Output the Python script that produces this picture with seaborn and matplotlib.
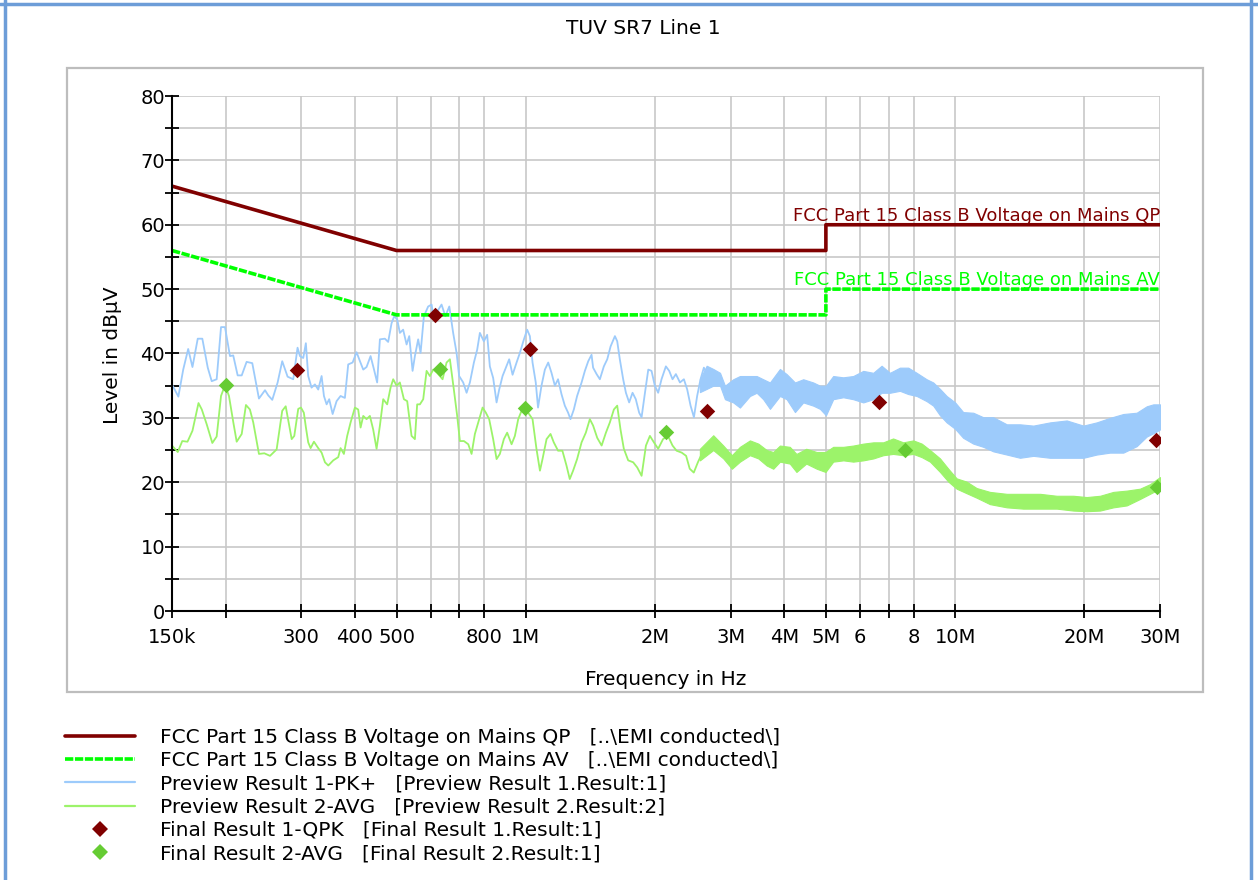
import numpy as np
import matplotlib
matplotlib.use('Agg')
import matplotlib.pyplot as plt
import seaborn as sns
from matplotlib.lines import Line2D
from matplotlib.patches import Rectangle
from matplotlib.ticker import FixedLocator, FixedFormatter, MultipleLocator, NullLocator

# --- limit lines (FCC Part 15 Class B, conducted) ---
limit_freq_hz = [150e3, 500e3, 5e6, 5e6, 30e6]
qp_limit_db = [66, 56, 56, 60, 60]
av_limit_db = [56, 46, 46, 50, 50]

# --- Preview Result 1-PK+ , resolved part (kHz) ---
pk_freq_khz = [150.0, 155.2, 159.3, 163.6, 167.4, 172.2, 176.5, 181.7, 185.6, 190.6,
               195.1, 199.3, 204.7, 208.3, 213.3, 218.0, 223.8, 230.7, 239.1, 247.0,
               251.3, 256.8, 264.3, 270.9, 278.8, 287.4, 294.1, 297.9, 303.2, 307.5,
               311.4, 317.0, 322.8, 328.6, 334.6, 338.8, 343.7, 348.5, 355.0, 362.6,
               370.4, 379.1, 385.9, 395.1, 403.6, 411.0, 418.3, 425.8, 435.1, 442.8,
               450.7, 457.4, 469.8, 478.1, 486.9, 493.9, 501.8, 509.1, 518.1, 527.8,
               535.3, 545.0, 551.8, 561.6, 568.9, 579.1, 592.5, 603.6, 608.6, 621.8,
               636.6, 649.7, 663.6, 677.5, 690.0, 699.6, 714.9, 728.1, 741.1, 757.2,
               770.7, 781.9, 798.7, 813.0, 824.8, 839.6, 855.1, 867.2, 883.0, 898.8,
               914.9, 931.7, 951.9, 969.0, 990.2, 1007.5, 1022.3, 1037, 1055, 1068,
               1088, 1108, 1128, 1148, 1169, 1189, 1211, 1233, 1255, 1271,
               1294, 1317, 1349, 1373, 1398, 1423, 1435, 1462, 1488, 1520,
               1548, 1576, 1613, 1633, 1656, 1686, 1711, 1741, 1773, 1804,
               1837, 1861, 1895, 1929, 1963, 1998, 2034, 2071, 2120, 2158,
               2197, 2237, 2286, 2335, 2377, 2420, 2464, 2507, 2553, 2599,
               2660]
pk_level = [35.2, 33.3, 37.5, 40.7, 37.9, 42.3, 42.3, 37.8, 35.7, 36.0,
            44.1, 44.1, 39.6, 39.7, 36.6, 36.6, 38.7, 38.5, 33.0, 34.3,
            33.5, 32.8, 35.5, 38.8, 36.4, 36.0, 40.9, 39.6, 39.3, 41.6,
            36.5, 34.7, 35.2, 34.4, 36.5, 33.4, 32.1, 32.9, 30.6, 32.6,
            33.4, 33.1, 38.3, 38.6, 40.2, 38.8, 37.5, 37.9, 39.6, 37.6,
            35.5, 42.2, 42.3, 41.8, 44.7, 45.8, 45.3, 43.2, 43.7, 41.4,
            42.7, 37.3, 39.6, 42.2, 40.1, 45.8, 47.3, 47.6, 45.8, 46.5,
            47.6, 45.8, 47.3, 43.2, 40.1, 36.5, 35.5, 33.9, 35.5, 38.6,
            40.6, 43.2, 41.9, 42.9, 38.0, 36.2, 32.4, 34.4, 36.5, 37.8,
            39.1, 36.7, 38.6, 40.1, 42.2, 43.7, 42.7, 38.6, 35.5, 31.6,
            35.0, 37.5, 38.6, 37.0, 35.0, 36.0, 33.7, 31.9, 30.8, 29.8,
            31.3, 33.4, 35.5, 37.3, 38.8, 39.8, 37.8, 36.8, 36.0, 38.0,
            39.1, 41.1, 42.7, 41.9, 39.1, 36.0, 33.9, 32.4, 33.9, 32.9,
            30.8, 30.1, 33.9, 37.5, 37.3, 35.0, 33.9, 36.0, 38.0, 37.3,
            36.0, 36.8, 35.5, 36.0, 34.4, 31.9, 30.1, 33.4, 36.0, 37.8,
            36.5]

# PK+ dense part above ~2.5 MHz: band edges (MHz)
pk_band_freq_mhz = [2.544, 2.638, 2.733, 2.834, 2.910, 3.042, 3.153, 3.327, 3.449, 3.573,
                    3.704, 3.908, 4.051, 4.236, 4.428, 4.672, 4.844, 5.002, 5.200, 5.487,
                    5.789, 6.109, 6.446, 6.741, 7.049, 7.436, 7.776, 8.136, 8.582, 8.892,
                    9.218, 9.554, 10.0, 10.44, 11.02, 11.63, 12.27, 13.19, 14.16, 15.21,
                    16.63, 18.19, 19.89, 21.36, 22.94, 24.64, 26.47, 27.94, 28.94, 30.0]
pk_band_high = [36.0, 38.1, 37.6, 37.0, 35.0, 36.0, 36.5, 36.5, 36.5, 36.0,
                35.5, 37.6, 36.8, 35.5, 36.0, 35.5, 35.0, 35.0, 36.5, 36.3,
                36.5, 37.3, 37.0, 38.1, 37.0, 37.8, 37.8, 37.0, 36.0, 35.5,
                34.5, 33.4, 32.4, 30.9, 30.8, 30.1, 30.1, 29.0, 29.0, 28.8,
                29.3, 29.6, 28.8, 29.3, 30.0, 30.6, 30.8, 31.8, 32.1, 32.1]
pk_band_low = [34.0, 34.5, 35.0, 35.0, 32.9, 32.4, 31.6, 33.4, 33.9, 32.9,
               31.4, 33.4, 32.9, 30.9, 32.4, 31.9, 31.4, 30.4, 32.9, 33.2,
               32.9, 32.4, 32.9, 33.9, 33.9, 34.2, 33.7, 33.4, 32.6, 31.9,
               30.4, 29.3, 28.3, 26.9, 26.0, 25.5, 24.8, 24.3, 23.8, 24.1,
               23.8, 23.8, 23.8, 24.3, 24.6, 24.6, 25.6, 27.1, 27.6, 28.2]

# --- Preview Result 2-AVG , resolved part (kHz) ---
avg_freq_khz = [150.0, 154.7, 158.5, 163.0, 167.4, 172.9, 176.0, 180.7, 186.2, 190.6,
                195.1, 199.3, 203.6, 208.4, 212.2, 218.0, 223.0, 227.8, 231.9, 239.1,
                246.1, 253.7, 262.9, 270.9, 276.0, 285.0, 289.0, 295.2, 299.5,
                304.2, 307.6, 311.4, 315.4, 321.1, 328.6, 334.6, 340.7, 346.8, 356.2,
                365.8, 370.4, 377.1, 383.8, 390.9, 400.0, 407.1, 412.4, 418.3, 425.8,
                433.5, 441.2, 449.3, 457.4, 465.6, 475.6, 484.3, 491.2, 500.2, 509.1,
                520.2, 529.5, 542.0, 551.8, 558.6, 566.8, 577.0, 587.5, 598.1, 608.6,
                621.8, 640.1, 654.0, 665.7, 680.0, 692.3, 702.4, 717.8, 734.7, 747.8,
                761.2, 779.0, 793.3, 807.4, 821.8, 839.6, 855.1, 870.3, 889.2, 905.1,
                926.7, 943.3, 960.3, 977.8, 995.4, 1013, 1037, 1059, 1079, 1094,
                1118, 1142, 1162, 1189, 1217, 1244, 1266, 1289, 1317, 1349,
                1380, 1410, 1435, 1467, 1502, 1537, 1570, 1604, 1633, 1662,
                1692, 1732, 1779, 1818, 1861, 1905, 1946, 1988, 2034, 2088,
                2144, 2197, 2245, 2308, 2363, 2409, 2462, 2517, 2578, 2633]
avg_level = [25.7, 24.7, 26.4, 26.3, 28.0, 32.3, 31.3, 29.0, 26.1, 27.1,
             33.4, 35.1, 33.4, 29.3, 26.3, 27.5, 32.0, 31.3, 29.3, 24.4,
             24.5, 24.1, 25.1, 31.1, 31.8, 26.7, 27.2, 31.4, 31.6,
             30.8, 28.5, 26.2, 25.3, 26.3, 25.3, 24.6, 23.1, 22.6, 23.4,
             23.9, 25.3, 24.4, 27.2, 29.3, 31.6, 31.3, 28.5, 30.3, 29.8,
             30.3, 28.2, 25.2, 28.8, 32.9, 32.1, 34.7, 36.0, 35.0, 35.5,
             32.9, 32.6, 27.2, 26.7, 32.1, 32.1, 32.9, 37.3, 36.5, 37.5,
             37.0, 36.0, 38.6, 39.1, 34.4, 30.3, 26.4, 26.4, 25.9, 24.4,
             27.5, 29.8, 31.6, 30.8, 29.8, 26.7, 23.6, 24.4, 26.7, 27.7,
             25.9, 27.2, 29.8, 31.1, 31.6, 30.8, 29.8, 25.2, 21.8, 23.6,
             26.7, 27.5, 26.2, 24.9, 24.9, 22.6, 20.5, 21.8, 23.6, 26.2,
             27.7, 29.8, 28.8, 26.9, 25.7, 27.7, 29.3, 31.3, 31.9, 28.2,
             25.2, 23.4, 23.1, 22.3, 21.0, 25.7, 27.2, 26.2, 25.2, 26.7,
             27.2, 25.7, 24.9, 24.6, 24.1, 22.1, 21.5, 23.1, 24.6, 25.7]

avg_band_freq_mhz = [2.544, 2.733, 2.884, 3.020, 3.153, 3.327, 3.480, 3.640, 3.770, 3.908,
                     4.120, 4.270, 4.500, 4.760, 4.990, 5.200, 5.490, 5.790, 6.110, 6.450,
                     6.800, 7.170, 7.570, 7.990, 8.360, 8.740, 9.220, 9.640, 10.08, 10.63,
                     11.22, 12.05, 13.19, 14.41, 15.77, 17.24, 18.85, 20.25, 21.75, 23.36,
                     25.10, 26.95, 28.43, 30.0]
avg_band_high = [25.2, 27.3, 25.7, 24.2, 25.5, 26.5, 26.0, 25.0, 24.7, 25.7,
                 25.5, 24.4, 25.2, 24.7, 24.7, 25.5, 25.5, 25.7, 26.0, 26.2,
                 26.2, 26.8, 26.2, 26.5, 26.0, 25.0, 23.7, 22.1, 20.6, 20.1,
                 19.1, 18.5, 18.2, 18.2, 18.2, 17.9, 17.9, 17.7, 17.9, 18.5,
                 18.7, 19.0, 19.7, 20.8]
avg_band_low = [23.4, 25.0, 23.7, 22.1, 23.2, 24.2, 23.7, 22.6, 22.1, 23.2,
                22.9, 21.6, 22.9, 22.1, 21.6, 23.2, 23.4, 23.2, 23.4, 23.7,
                24.2, 24.4, 24.2, 24.4, 23.9, 23.2, 21.6, 20.1, 19.0, 18.3,
                17.6, 16.6, 16.1, 15.9, 15.9, 15.9, 15.6, 15.5, 15.6, 16.1,
                16.4, 17.4, 18.2, 19.0]

# --- final results ---
qpk_freq_mhz = [0.2936, 0.6136, 1.022, 2.64, 6.66, 29.36]
qpk_level = [37.4, 46.0, 40.7, 31.1, 32.5, 26.6]
avg_final_freq_mhz = [0.200, 0.633, 0.995, 2.12, 7.64, 29.5]
avg_final_level = [35.1, 37.6, 31.5, 27.8, 25.0, 19.3]

# --- axis ticks ---
tick_freqs = [150e3, 200e3, 300e3, 400e3, 500e3, 600e3, 700e3, 800e3, 1e6,
              2e6, 3e6, 4e6, 5e6, 6e6, 7e6, 8e6, 10e6, 20e6, 30e6]
tick_labels = ['150k', '', '300', '400', '500', '', '', '800', '1M',
               '2M', '3M', '4M', '5M', '6', '', '8', '10M', '20M', '30M']

legend_labels = [
    'FCC Part 15 Class B Voltage on Mains QP   [..\\EMI conducted\\]',
    'FCC Part 15 Class B Voltage on Mains AV   [..\\EMI conducted\\]',
    'Preview Result 1-PK+   [Preview Result 1.Result:1]',
    'Preview Result 2-AVG   [Preview Result 2.Result:2]',
    'Final Result 1-QPK   [Final Result 1.Result:1]',
    'Final Result 2-AVG   [Final Result 2.Result:1]',
]

QP_COLOR = '#800000'
AV_COLOR = '#00ff00'
PK_COLOR = '#9dcbfb'
AVG_COLOR = '#9cf36a'
AVG_MARK = '#66cc33'
AV_DASH = (0, (2.3, 0.45))

sns.set_theme(style='white')
plt.rcParams['font.family'] = ['DejaVu Sans']
plt.rcParams.update({'text.color': 'black', 'axes.labelcolor': 'black',
                     'xtick.color': 'black', 'ytick.color': 'black'})

fig = plt.figure(figsize=(12.58, 8.8), dpi=100)
W, H = 1258, 880

# window frame + panel box
for xs, ys in [([0, 1], [1 - 4 / H] * 2), ([5 / W] * 2, [0, 1]), ([1251 / W] * 2, [0, 1])]:
    fig.add_artist(Line2D(xs, ys, transform=fig.transFigure, color='#6d9dd8', lw=2.5))
fig.add_artist(Rectangle((67 / W, 1 - 692 / H), 1136 / W, 624 / H, transform=fig.transFigure,
                         fill=False, edgecolor='#bdbdbd', lw=1.6))

ax = fig.add_axes([172 / W, 1 - 611 / H, 988 / W, 515 / H])
ax.set_xscale('log')

# preview traces
sns.lineplot(x=np.array(pk_freq_khz) * 1e3, y=pk_level, ax=ax, color=PK_COLOR, lw=1.3,
             sort=False, estimator=None, legend=False)
ax.fill_between(np.array(pk_band_freq_mhz) * 1e6, pk_band_low, pk_band_high,
                color=PK_COLOR, lw=0.8)
sns.lineplot(x=np.array(avg_freq_khz) * 1e3, y=avg_level, ax=ax, color=AVG_COLOR, lw=1.3,
             sort=False, estimator=None, legend=False)
ax.fill_between(np.array(avg_band_freq_mhz) * 1e6, avg_band_low, avg_band_high,
                color=AVG_COLOR, lw=0.8)

# limits
sns.lineplot(x=limit_freq_hz, y=qp_limit_db, ax=ax, color=QP_COLOR, lw=2.6,
             sort=False, estimator=None, legend=False)
sns.lineplot(x=limit_freq_hz, y=av_limit_db, ax=ax, color=AV_COLOR, lw=2.6,
             sort=False, estimator=None, legend=False)
ax.lines[-1].set_linestyle(AV_DASH)

ax.text(30e6, 60, 'FCC Part 15 Class B Voltage on Mains QP', color=QP_COLOR,
        ha='right', va='bottom', fontsize=13)
ax.text(30e6, 50, 'FCC Part 15 Class B Voltage on Mains AV', color=AV_COLOR,
        ha='right', va='bottom', fontsize=13)

# final results
sns.scatterplot(x=np.array(qpk_freq_mhz) * 1e6, y=qpk_level, ax=ax, marker='D', s=62,
                color=QP_COLOR, linewidth=0, zorder=5, legend=False)
sns.scatterplot(x=np.array(avg_final_freq_mhz) * 1e6, y=avg_final_level, ax=ax, marker='D',
                s=62, color=AVG_MARK, linewidth=0, zorder=5, legend=False)

# axes styling
ax.set_xlim(150e3, 30e6)
ax.set_ylim(0, 80)
ax.xaxis.set_major_locator(FixedLocator(tick_freqs))
ax.xaxis.set_major_formatter(FixedFormatter(tick_labels))
ax.xaxis.set_minor_locator(NullLocator())
ax.yaxis.set_major_locator(MultipleLocator(10))
ax.yaxis.set_minor_locator(MultipleLocator(5))
ax.grid(True, which='both', color='#c8c8c8', lw=1.2)
ax.set_axisbelow(True)
ax.tick_params(which='both', direction='inout', length=10, width=1.3, color='black',
               labelcolor='black', labelsize=14, left=True, bottom=True)
ax.tick_params(axis='y', pad=0)
ax.tick_params(axis='x', pad=7)
for side in ['top', 'right']:
    ax.spines[side].set_visible(False)
for side in ['left', 'bottom']:
    ax.spines[side].set_color('black')
    ax.spines[side].set_linewidth(1.5)

ax.set_xlabel('Frequency in Hz', fontsize=14.5, color='black')
ax.xaxis.label.set_va('center')
ax.xaxis.set_label_coords(0.5, (611 - 679) / 515)
ax.set_ylabel('Level in dBµV', fontsize=14.5, color='black')
ax.yaxis.label.set_va('center')
ax.yaxis.set_label_coords((113 - 172) / 988, 0.497)

fig.text(643.5 / W, 1 - 28 / H, 'TUV SR7 Line 1', ha='center', va='center',
         fontsize=14.5, color='black')

handles = [
    Line2D([], [], color=QP_COLOR, lw=2.6),
    Line2D([], [], color=AV_COLOR, lw=2.6, ls=AV_DASH),
    Line2D([], [], color=PK_COLOR, lw=1.6),
    Line2D([], [], color=AVG_COLOR, lw=1.6),
    Line2D([], [], ls='none', marker='D', ms=8.2, color=QP_COLOR, mew=0),
    Line2D([], [], ls='none', marker='D', ms=8.2, color=AVG_MARK, mew=0),
]
leg = fig.legend(handles, legend_labels, loc='upper left', bbox_to_anchor=(65 / W, 1 - 728 / H),
                 frameon=False, borderpad=0, borderaxespad=0, handlelength=3.48,
                 handletextpad=1.24, labelspacing=0.21, fontsize=14.5)
for t in leg.get_texts():
    t.set_color('black')

fig.savefig('out.png', dpi=100)
